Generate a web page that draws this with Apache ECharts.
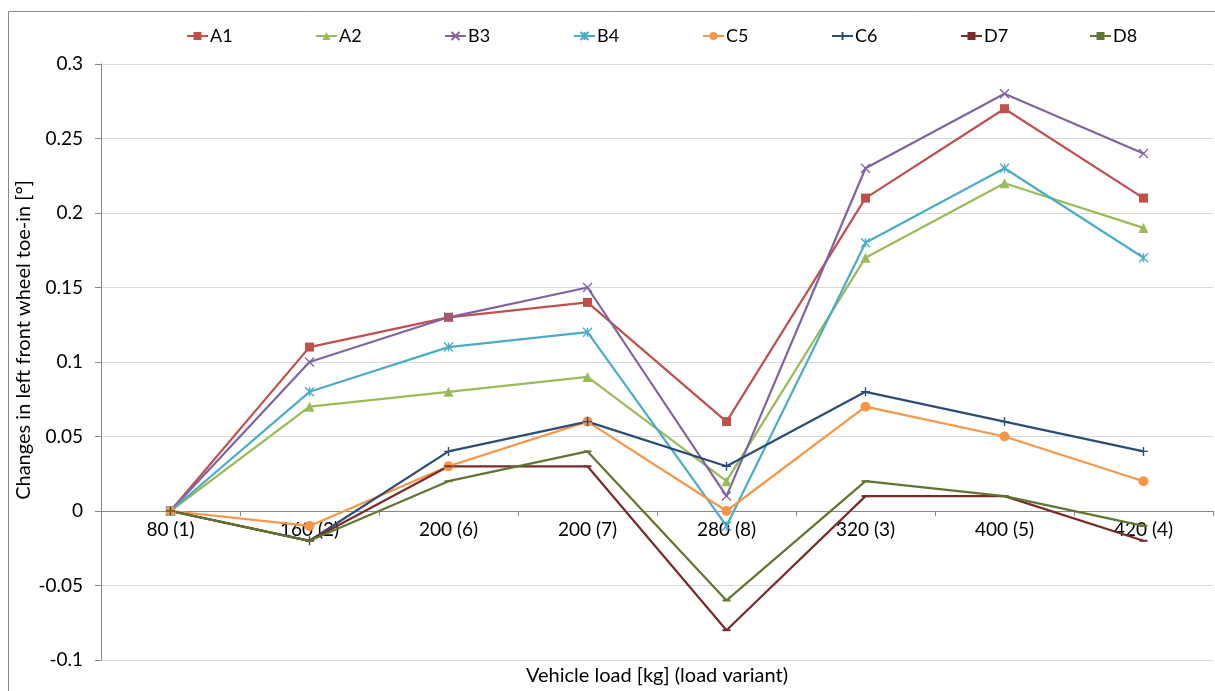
<!DOCTYPE html>
<html>
<head>
<meta charset="utf-8">
<script src="https://cdn.jsdelivr.net/npm/echarts@6/dist/echarts.min.js"></script>
<style>
html,body{margin:0;padding:0;background:#fff;}
#chart{width:1215px;height:691px;}
</style>
</head>
<body>
<div id="chart"></div>
<script>
var categories = ['80 (1)', '160 (2)', '200 (6)', '200 (7)', '280 (8)', '320 (3)', '400 (5)', '420 (4)'];
var yTicks = { min: -0.1, max: 0.3, interval: 0.05 };
var A1 = [0, 0.11, 0.13, 0.14, 0.06, 0.21, 0.27, 0.21];
var A2 = [0, 0.07, 0.08, 0.09, 0.02, 0.17, 0.22, 0.19];
var B3 = [0, 0.10, 0.13, 0.15, 0.01, 0.23, 0.28, 0.24];
var B4 = [0, 0.08, 0.11, 0.12, -0.01, 0.18, 0.23, 0.17];
var C5 = [0, -0.01, 0.03, 0.06, 0.00, 0.07, 0.05, 0.02];
var C6 = [0, -0.02, 0.04, 0.06, 0.03, 0.08, 0.06, 0.04];
var D7 = [0, -0.02, 0.03, 0.03, -0.08, 0.01, 0.01, -0.02];
var D8 = [0, -0.02, 0.02, 0.04, -0.06, 0.02, 0.01, -0.01];
var seriesNames = ['A1', 'A2', 'B3', 'B4', 'C5', 'C6', 'D7', 'D8'];
var seriesData = [A1, A2, B3, B4, C5, C6, D7, D8];

var colors = ['#C0504D', '#9BBB59', '#8064A2', '#4BACC6', '#F79646', '#2C4D75', '#772C2A', '#5F7530'];
var symbols = [
  'rect', 'triangle',
  'path://M0,0L10,10M10,0L0,10',
  'path://M5,0L5,10M0,0L10,10M10,0L0,10',
  'circle',
  'path://M5,0L5,10M0,5L10,5',
  'rect', 'rect'
];
var symbolSizes = [9, 10, 9, 9, 10, 9, [8, 2], [8, 2]];

var FONT = 'Lato';
var series = seriesNames.map(function (n, i) {
  return {
    name: n,
    type: 'line',
    data: seriesData[i],
    symbol: symbols[i],
    symbolSize: symbolSizes[i],
    showAllSymbol: true,
    lineStyle: { color: colors[i], width: 2.2 },
    itemStyle: { color: colors[i], borderColor: colors[i], borderWidth: (i === 2 || i === 3 || i === 5) ? 1.4 : 0 },
    emphasis: { disabled: true }
  };
});

var legends = seriesNames.map(function (n, i) {
  return {
    data: [n],
    left: 186 + 129 * i,
    top: 27,
    itemWidth: 21,
    itemHeight: 10,
    padding: 0,
    textStyle: { fontFamily: FONT, fontSize: 18, color: '#000', padding: [0, 0, 0, -3] },
    selectedMode: false
  };
});

var chart = echarts.init(document.getElementById('chart'));
var option = {
  animation: false,
  backgroundColor: '#fff',
  color: colors,
  textStyle: { fontFamily: FONT },
  legend: legends,
  grid: { left: 101, right: 2, top: 64, bottom: 31, containLabel: false },
  xAxis: {
    type: 'category',
    data: categories,
    boundaryGap: true,
    offset: 0,
    axisLine: { onZero: false, lineStyle: { color: '#868686', width: 1 } },
    axisTick: { show: true, length: 5, lineStyle: { color: '#868686' } },
    axisLabel: { fontFamily: FONT, fontSize: 19, color: '#000', margin: 9 },
    splitLine: { show: false }
  },
  yAxis: {
    type: 'value',
    min: yTicks.min,
    max: yTicks.max,
    interval: yTicks.interval,
    axisLine: { show: true, lineStyle: { color: '#868686', width: 1 } },
    axisTick: { show: true, length: 6, lineStyle: { color: '#868686' } },
    axisLabel: {
      fontFamily: FONT, fontSize: 19, color: '#000', margin: 18,
      formatter: function (v) { return String(Math.round(v * 1000) / 1000); }
    },
    splitLine: { show: true, lineStyle: { color: '#D9D9D9', width: 1 } }
  },
  graphic: [
    { type: 'rect', shape: { x: 8.5, y: 11.5, width: 1220, height: 700 }, style: { fill: 'none', stroke: '#898989', lineWidth: 1 }, silent: true, z: -10 },
    { type: 'text', x: 24, y: 340, rotation: Math.PI / 2, style: { text: 'Changes in left front wheel toe-in [°]', fontFamily: FONT, fontSize: 20, fill: '#000', align: 'center', verticalAlign: 'middle' } },
    { type: 'text', x: 657, y: 676, style: { text: 'Vehicle load [kg] (load variant)', fontFamily: FONT, fontSize: 20, fill: '#000', align: 'center', verticalAlign: 'middle' } }
  ],
  series: series
};
chart.setOption(option);
// place the category axis on the value 0 of the value axis (Excel "crosses at 0")
var yZero = chart.convertToPixel({ yAxisIndex: 0 }, 0);
var yMin = chart.convertToPixel({ yAxisIndex: 0 }, yTicks.min);
chart.setOption({ xAxis: { offset: -(yMin - yZero) } });
</script>
</body>
</html>
